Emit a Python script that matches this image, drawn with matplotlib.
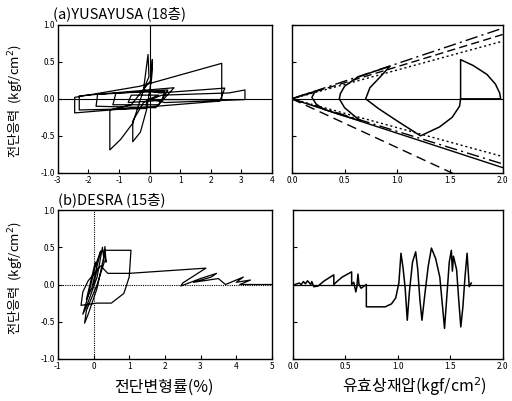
import matplotlib
matplotlib.use("Agg")
import matplotlib.pyplot as plt
from matplotlib.ticker import MultipleLocator, FormatStrFormatter

plt.rcParams['font.family'] = ['Noto Sans CJK KR', 'DejaVu Sans']

# (a) YUSAYUSA : shear strain (%) vs shear stress
a_strain = [0.0, 0.3, -0.6, -0.7, 0.4, 0.5, -1.1, -1.2, 0.3, 0.6,
            -1.7, -1.75, 0.2, 0.8, -2.3, -2.3, -0.1, -0.1, 2.36, 2.36,
            -0.32, -2.45, -2.45, 2.3, 2.46, 0.34, -0.2, -0.05, -0.02, -0.2,
            -0.55, -0.95, -1.3, -1.3, -0.6, 0.06, 0.09, 0.06, -0.1, -0.3,
            -0.55, -0.55, -0.2, 0.4, 2.6, 3.12, 3.12, 2.5, 0.5, 0.0]
a_stress = [0.0, 0.05, 0.05, -0.05, -0.02, 0.1, 0.08, -0.08, -0.08, 0.12,
            0.06, -0.1, -0.12, 0.15, 0.04, -0.15, -0.13, -0.01, -0.01, 0.48,
            0.17, 0.02, -0.19, -0.03, 0.145, 0.08, 0.12, 0.6, 0.3, 0.12,
            -0.33, -0.55, -0.69, -0.15, -0.08, 0.26, 0.53, 0.26, -0.15, -0.45,
            -0.58, -0.3, -0.05, 0.05, 0.08, 0.12, -0.01, -0.02, -0.05, 0.0]

# (a) effective stress path
a_p = [1.60, 1.60, 1.72, 1.85, 1.93, 1.97, 1.98, 1.60, 1.59, 1.52, 1.40,
       1.22, 1.00, 0.82, 0.70, 0.74, 0.84, 0.93, 0.78, 0.62, 0.50, 0.46,
       0.45, 0.50, 0.60, 0.66, 0.45, 0.30, 0.23, 0.19, 0.22, 0.10, 0.0]
a_q = [0.00, 0.53, 0.45, 0.33, 0.20, 0.08, 0.00, 0.00, -0.10, -0.25, -0.38,
       -0.50, -0.30, -0.13, 0.00, 0.15, 0.30, 0.44, 0.37, 0.29, 0.17, 0.07,
       0.00, -0.12, -0.24, -0.30, -0.21, -0.14, -0.07, 0.02, 0.10, 0.05, 0.0]

# failure / reference lines from origin, value of q at p' = 2.0
env_q_end = [0.955, 0.87, 0.78, -0.78, -0.88, -0.93, -1.32]
env_styles = [(0, (9, 3, 1.5, 3)), (0, (6, 3)), (0, (1.5, 2)),
              (0, (1.5, 2)), (0, (9, 3, 1.5, 3)), '-', (0, (7, 4))]

# (b) DESRA : shear strain (%) vs shear stress
b_strain = [0.0, 0.1, 0.05, -0.1, -0.2, -0.05, 0.15, 0.2, 0.05, -0.15,
            -0.3, -0.2, 0.1, 0.25, 0.3, 0.1, -0.2, -0.25, -0.15, 0.1,
            0.3, 0.32, 0.35, 0.3, 1.05, 1.0, 0.85, 0.5, 0.1, -0.35,
            -0.3, -0.15, 0.2, 0.4, 1.0, 3.15, 2.5, 2.45, 3.0, 3.45,
            3.3, 2.8, 3.5, 3.7, 4.2, 4.0, 4.4, 4.1, 5.0]
b_stress = [0.0, 0.2, 0.3, 0.0, -0.2, -0.05, 0.35, 0.45, 0.25, -0.15,
            -0.4, -0.3, 0.1, 0.5, 0.3, 0.0, -0.35, -0.52, -0.4, -0.05,
            0.4, 0.51, 0.3, 0.46, 0.46, 0.1, -0.12, -0.25, -0.25, -0.28,
            -0.1, 0.05, 0.25, 0.15, 0.15, 0.22, 0.02, -0.02, 0.08, 0.15,
            0.1, 0.03, 0.08, 0.0, 0.1, 0.03, 0.06, 0.0, 0.0]

# (b) effective stress path
b_p = [0.02, 0.06, 0.08, 0.1, 0.12, 0.14, 0.17, 0.18, 0.2, 0.24,
       0.3, 0.39, 0.39, 0.42, 0.47, 0.56, 0.56, 0.58, 0.6, 0.61,
       0.62, 0.63, 0.65, 0.7, 0.7, 0.78, 0.88, 0.94, 0.98, 1.01,
       1.03, 1.05, 1.07, 1.09, 1.11, 1.14, 1.17, 1.19, 1.21, 1.23,
       1.26, 1.29, 1.32, 1.36, 1.4, 1.445, 1.47, 1.49, 1.51, 1.52,
       1.53, 1.56, 1.58, 1.6, 1.62, 1.64, 1.66, 1.68, 1.7]
b_q = [0.0, 0.02, 0.0, 0.04, 0.01, 0.05, 0.0, 0.04, -0.03, -0.02,
       0.05, 0.13, 0.0, 0.04, 0.1, 0.17, 0.0, 0.03, -0.1, -0.03,
       0.14, 0.0, -0.05, 0.0, -0.3, -0.3, -0.3, -0.26, -0.18, 0.02,
       0.42, 0.22, -0.05, -0.48, -0.1, 0.3, 0.44, 0.2, -0.2, -0.48,
       -0.1, 0.25, 0.49, 0.35, 0.1, -0.59, -0.1, 0.3, 0.46, 0.18,
       0.38, 0.2, -0.2, -0.57, -0.3, 0.1, 0.42, -0.03, 0.02]

fig = plt.figure(figsize=(5.12, 4.01), dpi=100)
ax1 = fig.add_axes([0.113, 0.569, 0.418, 0.369])
ax2 = fig.add_axes([0.570, 0.569, 0.412, 0.369])
ax3 = fig.add_axes([0.113, 0.105, 0.418, 0.371])
ax4 = fig.add_axes([0.572, 0.105, 0.410, 0.371])


def style(ax, xlim, xstep, fmt, ylabels=True):
    ax.set_xlim(*xlim)
    ax.set_ylim(-1.0, 1.0)
    ax.xaxis.set_major_locator(MultipleLocator(xstep))
    ax.xaxis.set_major_formatter(FormatStrFormatter(fmt))
    ax.yaxis.set_major_locator(MultipleLocator(0.5))
    ax.yaxis.set_major_formatter(FormatStrFormatter('%.1f'))
    ax.tick_params(direction='in', length=3, width=0.8, labelsize=6, pad=2)
    if not ylabels:
        ax.tick_params(labelleft=False)
    for s in ax.spines.values():
        s.set_linewidth(1.0)


lw = 0.9
ax1.axhline(0, color='black', lw=0.8)
ax1.axvline(0, color='black', lw=0.8)
ax1.plot(a_strain, a_stress, color='black', lw=lw)
style(ax1, (-3, 4), 1, '%d')

ax2.axhline(0, color='black', lw=0.8)
for q, ls in zip(env_q_end, env_styles):
    ax2.plot([0, 2.0], [0, q], color='black', lw=1.0, linestyle=ls)
ax2.plot(a_p, a_q, color='black', lw=1.1)
style(ax2, (0, 2.0), 0.5, '%.1f', ylabels=False)

ax3.axhline(0, color='black', lw=0.8, linestyle=(0, (1, 1)))
ax3.axvline(0, color='black', lw=0.8, linestyle=(0, (1, 1)))
ax3.plot(b_strain, b_stress, color='black', lw=lw)
style(ax3, (-1, 5), 1, '%d')

ax4.axhline(0, color='black', lw=0.9)
ax4.plot(b_p, b_q, color='black', lw=1.1)
style(ax4, (0, 2.0), 0.5, '%.1f', ylabels=False)

fig.text(0.104, 0.966, '(a)YUSAYUSA (18층)', fontsize=10.5, va='center', ha='left')
fig.text(0.114, 0.501, '(b)DESRA (15층)', fontsize=10.5, va='center', ha='left')
fig.text(0.032, 0.748, '전단응력  (kgf/cm$^2$)', fontsize=9.5, rotation=90,
         va='center', ha='center')
fig.text(0.032, 0.306, '전단응력  (kgf/cm$^2$)', fontsize=9.5, rotation=90,
         va='center', ha='center')
fig.text(0.32, 0.035, '전단변형률(%)', fontsize=11.5, va='center', ha='center')
fig.text(0.81, 0.035, '유효상재압(kgf/cm$^2$)', fontsize=11.5, va='center', ha='center')

fig.savefig("out.png", dpi=100)
